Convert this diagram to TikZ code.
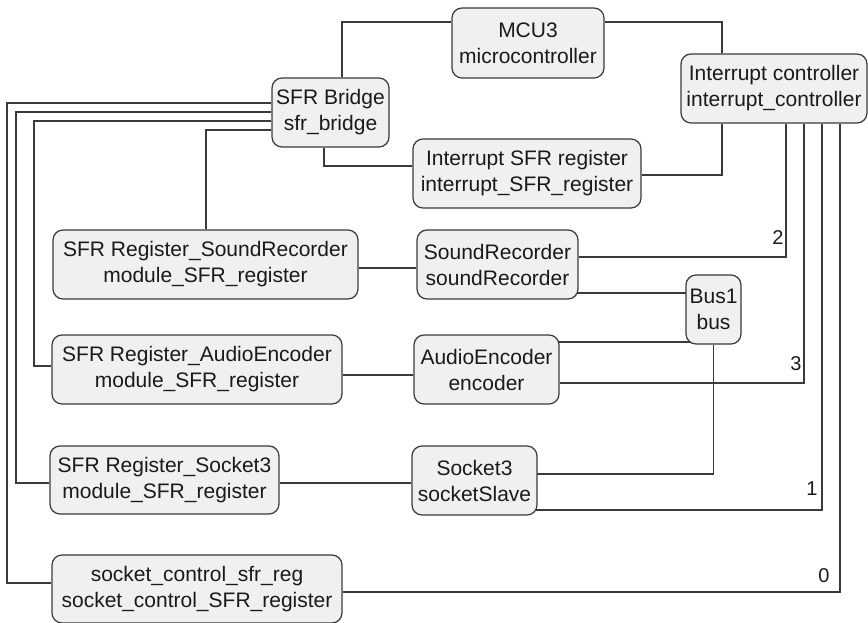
\documentclass[tikz,border=0pt]{standalone}
\usepackage{fontspec}
\setmainfont{Liberation Sans}
\usetikzlibrary{backgrounds}
\definecolor{boxline}{HTML}{3A3A3A}
\definecolor{boxfill}{HTML}{F0F0F0}
\definecolor{wirecol}{HTML}{3A3A3A}
\definecolor{inkcol}{HTML}{1A1A1A}
\begin{document}
\begin{tikzpicture}[x=1pt,y=-1pt,
  box/.style={draw=boxline, fill=boxfill, rounded corners=10pt, line width=1.2pt,
    inner sep=0pt, align=center, text=inkcol, font=\fontsize{21}{26}\selectfont},
  wire/.style={draw=wirecol, line width=1.2pt},
  num/.style={inner sep=0pt, text=inkcol, font=\fontsize{20}{24}\selectfont}]
\useasboundingbox (0,0) rectangle (868,623);

% blocks
\node[box, minimum width=152pt, minimum height=70pt] (mcu)   at (528,43)    {MCU3\\microcontroller};
\node[box, minimum width=117pt, minimum height=69pt] (bridge) at (330.5,112.5) {SFR Bridge\\sfr\_bridge};
\node[box, minimum width=186pt, minimum height=69pt] (ictl)  at (774,88.5)  {Interrupt controller\\interrupt\_controller};
\node[box, minimum width=228pt, minimum height=69pt] (isfr)  at (527,173.5) {Interrupt SFR register\\interrupt\_SFR\_register};
\node[box, minimum width=305pt, minimum height=69pt] (srreg) at (205.5,264.5) {SFR Register\_SoundRecorder\\module\_SFR\_register};
\node[box, minimum width=161pt, minimum height=69pt] (sr)    at (497.5,264.5) {SoundRecorder\\soundRecorder};
\node[box, minimum width=55pt,  minimum height=69pt] (bus)   at (713.5,309.5) {Bus1\\bus};
\node[box, minimum width=290pt, minimum height=69pt] (aereg) at (197,369.5)  {SFR Register\_AudioEncoder\\module\_SFR\_register};
\node[box, minimum width=145pt, minimum height=69pt] (ae)    at (486.5,369.5) {AudioEncoder\\encoder};
\node[box, minimum width=229pt, minimum height=68pt] (sreg)  at (164.5,480)  {SFR Register\_Socket3\\module\_SFR\_register};
\node[box, minimum width=125pt, minimum height=69pt] (sock)  at (474.5,480.5) {Socket3\\socketSlave};
\node[box, minimum width=290pt, minimum height=68pt] (sctl)  at (197,589)    {socket\_control\_sfr\_reg\\socket\_control\_SFR\_register};

% interrupt line numbers
\node[num] (n2) at (778,238) {2};
\node[num] (n3) at (796,364) {3};
\node[num] (n1) at (812,489) {1};
\node[num] (n0) at (824,576) {0};

\begin{scope}[on background layer]
  % processor side
  \draw[wire] (mcu.west |- 0,22) -| (bridge.north -| 342,0);
  \draw[wire] (mcu.east |- 0,22) -| (ictl.north -| 722,0);
  \draw[wire] (bridge.south -| 324,0) |- (isfr.west |- 0,166);
  \draw[wire] (isfr.east |- 0,175) -| (ictl.south -| 722,0);
  % SFR bridge fan-out
  \draw[wire] (bridge.west |- 0,103) -- (7,103) |- (sctl.west |- 0,583);
  \draw[wire] (bridge.west |- 0,112) -- (16,112) |- (sreg.west |- 0,483);
  \draw[wire] (bridge.west |- 0,121) -- (34,121) |- (aereg.west |- 0,366);
  \draw[wire] (bridge.west |- 0,130) -| (srreg.north -| 206,0);
  % registers to modules
  \draw[wire] (srreg.east |- 0,268) -- (sr.west |- 0,268);
  \draw[wire] (aereg.east |- 0,375) -- (ae.west |- 0,375);
  \draw[wire] (sreg.east |- 0,483) -- (sock.west |- 0,483);
  % bus
  \draw[wire] (sr.center |- 0,293) -- (bus.center |- 0,293);
  \draw[wire] (ae.center |- 0,342) -- (bus.center |- 0,342);
  \draw[wire] (bus.south) |- (sock.center |- 0,474);
  % interrupt lines
  \draw[wire] (sr.east |- 0,257) -| (ictl.south -| 786,0);
  \draw[wire] (ae.east |- 0,383) -| (ictl.south -| 804,0);
  \draw[wire] (sock.center |- 0,510) -| (ictl.south -| 822,0);
  \draw[wire] (sctl.east |- 0,592) -| (ictl.south -| 840,0);
\end{scope}
\end{tikzpicture}
\end{document}
